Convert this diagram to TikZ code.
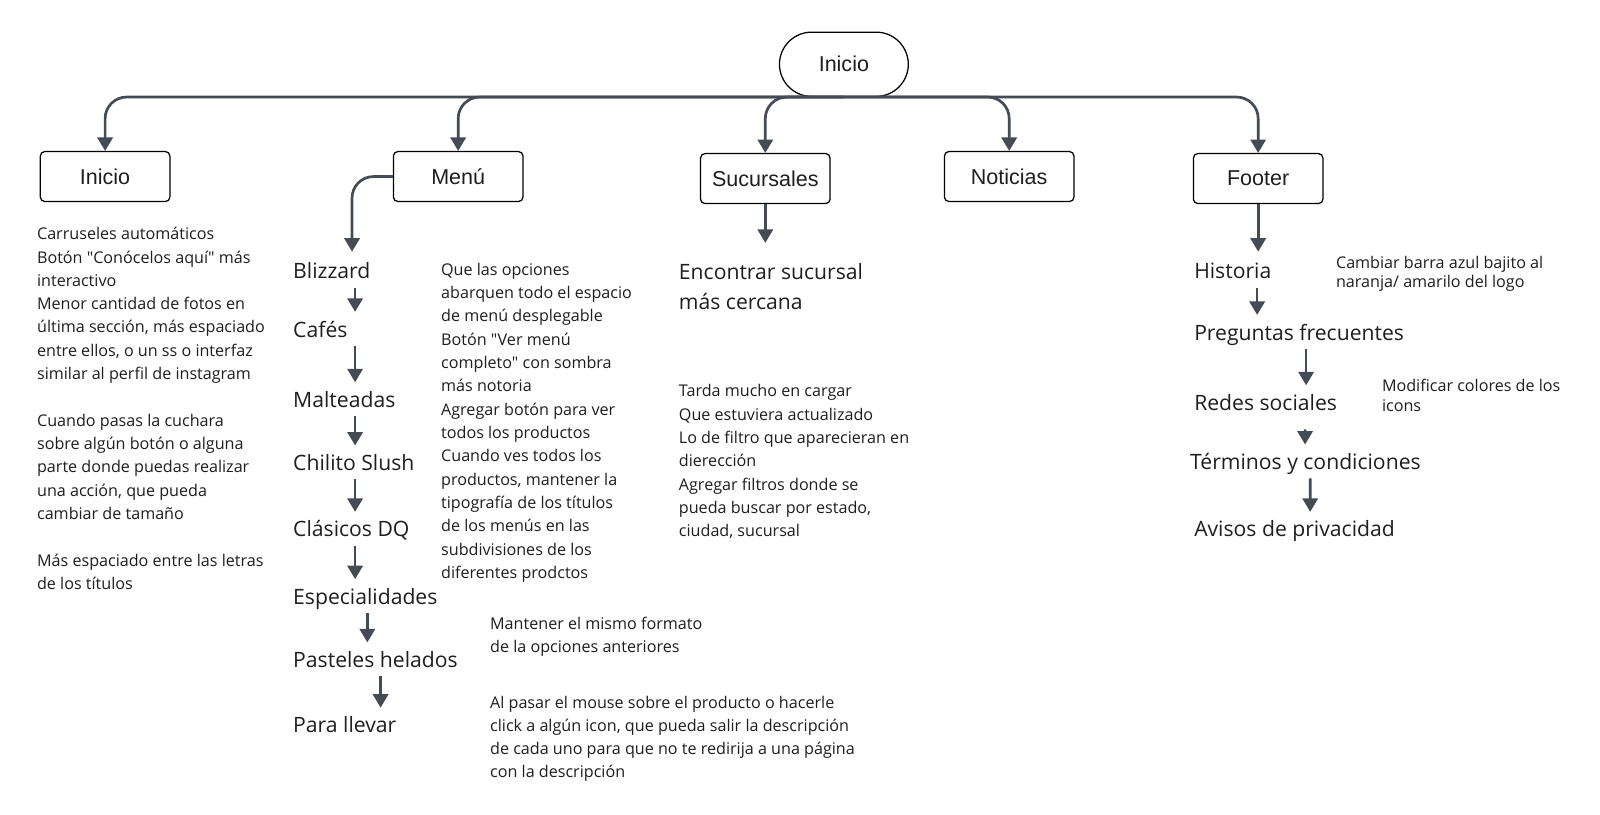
\documentclass[tikz,border=0pt]{standalone}
\usepackage{fontspec}
\newfontfamily\notefont{Open Sans}
\newfontfamily\boxfont{Liberation Sans}
\usepackage{xcolor}
\usetikzlibrary{arrows.meta, positioning, shapes.misc}
\definecolor{linegray}{HTML}{454B55}
\definecolor{ink}{HTML}{1E1E1E}

\tikzset{
        box/.style={draw, rounded corners=2.5pt, line width=0.7pt, minimum width=2.54cm, minimum height=0.98cm, font=\boxfont\fontsize{12}{14}\selectfont},
        item/.style={anchor=west, inner sep=0pt, text height=9pt, text depth=3pt, font=\notefont\fontsize{11.8}{16.4}\selectfont},
        note/.style={anchor=north west, inner sep=0pt, align=left, font=\notefont\fontsize{9}{13}\selectfont},
        branch/.style={->, draw=linegray, line width=1.5pt, rounded corners=12pt, >={Triangle[width=8.5pt,length=7.5pt]}},
        flow/.style={branch, shorten <=0.6mm, shorten >=1.7mm}
}

\begin{document}
\begin{tikzpicture}[x=0.02cm, y=-0.02cm, text=ink]
        \useasboundingbox (0,0) rectangle (1568,798);

        \node [draw, rounded rectangle, line width=0.7pt, minimum width=2.76cm, minimum height=1.26cm, font=\boxfont\fontsize{12}{14}\selectfont] (R) at (827,63) {Inicio};
        \node [box] (S1) at (103,173) {Inicio};
        \node [box] (S2) at (449,173) {Menú};
        \node [box] (S3) at (750,175) {Sucursales};
        \node [box] (S4) at (989,173) {Noticias};
        \node [box] (S5) at (1233,175) {Footer};
        \draw [branch] (R.south) -| (S1.north);
        \draw [branch] (R.south) -| (S2.north);
        \draw [branch] (R.south) -| (S3.north);
        \draw [branch] (R.south) -| (S4.north);
        \draw [branch] (R.south) -| (S5.north);

        \node [note] (N1) at (36,222.5) {Carruseles automáticos\\Botón "Conócelos aquí" más\\interactivo\\Menor cantidad de fotos en\\última sección, más espaciado\\entre ellos, o un ss o interfaz\\similar al perfil de instagram\\[13pt]Cuando pasas la cuchara\\sobre algún botón o alguna\\parte donde puedas realizar\\una acción, que pueda\\cambiar de tamaño\\[13pt]Más espaciado entre las letras\\de los títulos};

        \node [item] (M1) at (287,268) {Blizzard};
        \node [item, below=1.14cm of M1.west, anchor=west] (M2) {Cafés};
        \node [item, below=1.38cm of M2.west, anchor=west] (M3) {Malteadas};
        \node [item, below=1.24cm of M3.west, anchor=west] (M4) {Chilito Slush};
        \node [item, below=1.30cm of M4.west, anchor=west] (M5) {Clásicos DQ};
        \node [item, below=1.32cm of M5.west, anchor=west] (M6) {Especialidades};
        \node [item, below=1.24cm of M6.west, anchor=west] (M7) {Pasteles helados};
        \node [item, below=1.28cm of M7.west, anchor=west] (M8) {Para llevar};
        \draw [branch, shorten >=2.1mm] (S2.west) -| ([xshift=1.16cm]M1.north west);
        \draw [flow] ([xshift=1.22cm]M1.south west) -- ([xshift=1.22cm]M2.north west);
        \draw [flow] ([xshift=1.22cm]M2.south west) -- ([xshift=1.22cm]M3.north west);
        \draw [flow] ([xshift=1.22cm]M3.south west) -- ([xshift=1.22cm]M4.north west);
        \draw [flow] ([xshift=1.22cm]M4.south west) -- ([xshift=1.22cm]M5.north west);
        \draw [flow] ([xshift=1.22cm]M5.south west) -- ([xshift=1.22cm]M6.north west);
        \draw [flow] ([xshift=1.46cm]M6.south west) -- ([xshift=1.46cm]M7.north west);
        \draw [flow] ([xshift=1.72cm]M7.south west) -- ([xshift=1.72cm]M8.north west);
        \node [note] (N2) at (432,257.5) {Que las opciones\\abarquen todo el espacio\\de menú desplegable\\Botón "Ver menú\\completo" con sombra\\más notoria\\Agregar botón para ver\\todos los productos\\Cuando ves todos los\\productos, mantener la\\tipografía de los títulos\\de los menús en las\\subdivisiones de los\\diferentes prodctos};
        \node [note] (N3) at (480,604.5) {Mantener el mismo formato\\de la opciones anteriores};
        \node [note] (N4) at (480,681.5) {Al pasar el mouse sobre el producto o hacerle\\click a algún icon, que pueda salir la descripción\\de cada uno para que no te redirija a una página\\con la descripción};

        \node [note, font=\notefont\fontsize{11.8}{16.4}\selectfont] (E1) at (665,258) {Encontrar sucursal\\más cercana};
        \draw [branch, shorten >=4mm] (S3.south) -- (S3.south |- E1.north);
        \node [note] (N5) at (665,376.5) {Tarda mucho en cargar\\Que estuviera actualizado\\Lo de filtro que aparecieran en\\dierección\\Agregar filtros donde se\\pueda buscar por estado,\\ciudad, sucursal};

        \node [item] (F1) at (1170,268) {Historia};
        \node [item, below=1.20cm of F1.west, anchor=west] (F2) {Preguntas frecuentes};
        \node [item, below=1.38cm of F2.west, anchor=west] (F3) {Redes sociales};
        \node [item, below=1.16cm of F3.west, anchor=west, xshift=-0.08cm] (F4) {Términos y condiciones};
        \node [item, below=1.32cm of F4.west, anchor=west, xshift=0.08cm] (F5) {Avisos de privacidad};
        \draw [branch, shorten >=2.1mm] (S5.south) -- (S5.south |- F1.north);
        \draw [flow] ([xshift=1.24cm]F1.south west) -- ([xshift=1.24cm]F2.north west);
        \draw [flow] ([xshift=2.2cm]F2.south west) -- ([xshift=2.2cm]F3.north west);
        \draw [flow, shorten <=2.6mm] ([xshift=2.18cm]F3.south west) -- ([xshift=2.26cm]F4.north west);
        \draw [flow] ([xshift=2.36cm]F4.south west) -- ([xshift=2.28cm]F5.north west);
        \node [note, font=\notefont\fontsize{9}{10.8}\selectfont] (N6) at (1309,250.5) {Cambiar barra azul bajito al\\naranja/ amarilo del logo};
        \node [note, font=\notefont\fontsize{9}{10.8}\selectfont] (N7) at (1354,371.5) {Modificar colores de los\\icons};
\end{tikzpicture}
\end{document}
